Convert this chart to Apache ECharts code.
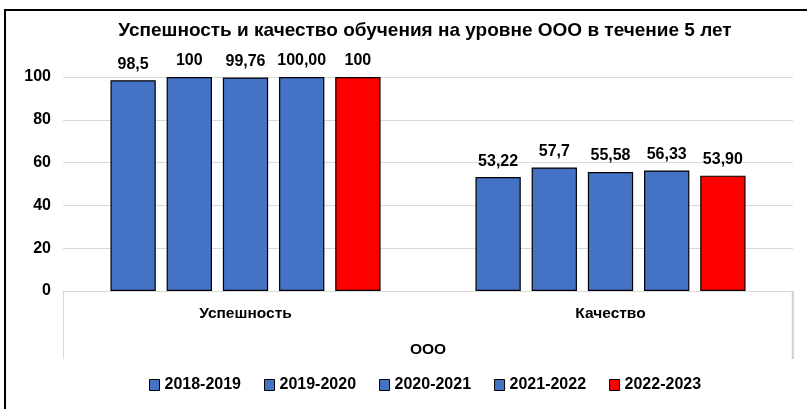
<!DOCTYPE html>
<html>
<head>
<meta charset="utf-8">
<script src="https://cdn.jsdelivr.net/npm/echarts@6/dist/echarts.min.js"></script>
<style>
  html, body { margin: 0; padding: 0; background: #fff; }
  #main { width: 807px; height: 409px; }
</style>
</head>
<body>
<div id="main"></div>
<script>
var categories = ['Успешность', 'Качество'];
var groupLabel = ['ООО'];
var years = ['2018-2019', '2019-2020', '2020-2021', '2021-2022', '2022-2023'];
var colors = ['#4472C4', '#4472C4', '#4472C4', '#4472C4', '#FF0000'];
var values = [
  [98.5, 53.22],
  [100, 57.7],
  [99.76, 55.58],
  [100, 56.33],
  [100, 53.9]
];
var labels = [
  ['98,5', '53,22'],
  ['100', '57,7'],
  ['99,76', '55,58'],
  ['100,00', '56,33'],
  ['100', '53,90']
];

var font = "'Liberation Sans', Arial, sans-serif";

var series = years.map(function (y, i) {
  return {
    name: y,
    type: 'bar',
    barGap: '24%',
    barCategoryGap: '26%',
    itemStyle: { color: colors[i], borderColor: '#000', borderWidth: 1.2 },
    label: {
      show: true,
      position: 'top',
      distance: 8,
      color: '#000',
      fontWeight: 'bold',
      fontSize: 16,
      fontFamily: font,
      formatter: function (p) { return labels[i][p.dataIndex]; }
    },
    data: values[i]
  };
});

var option = {
  animation: false,
  color: colors,
  title: {
    text: 'Успешность и качество обучения на уровне ООО в течение 5 лет',
    left: 420,
    textAlign: 'center',
    top: 16,
    textStyle: { fontSize: 19, fontWeight: 'bold', color: '#000', fontFamily: font }
  },
  legend: {
    bottom: 11,
    left: 144,
    icon: 'rect',
    itemWidth: 10,
    itemHeight: 11,
    itemGap: 23,
    textStyle: { fontSize: 16, fontWeight: 'bold', color: '#000', fontFamily: font },
    itemStyle: { borderColor: '#000', borderWidth: 1 },
    data: years
  },
  grid: { left: 63, right: 14, top: 77, bottom: 118 },
  xAxis: [
    {
      type: 'category',
      data: categories,
      axisLine: { lineStyle: { color: '#d9d9d9' } },
      axisTick: { show: false },
      axisLabel: { color: '#000', fontWeight: 'bold', fontSize: 15.5, fontFamily: font, margin: 15 }
    },
    {
      type: 'category',
      data: groupLabel,
      position: 'bottom',
      offset: 0,
      axisLine: { show: false },
      axisTick: { show: true, length: 68, lineStyle: { color: '#d9d9d9' } },
      axisLabel: { color: '#000', fontWeight: 'bold', fontSize: 15.5, fontFamily: font, margin: 51 }
    }
  ],
  yAxis: {
    type: 'value',
    min: 0,
    max: 100,
    interval: 20,
    axisLine: { show: false },
    axisTick: { show: false },
    axisLabel: { color: '#000', fontWeight: 'bold', fontSize: 16, fontFamily: font, margin: 12 },
    splitLine: { lineStyle: { color: '#d9d9d9' } }
  },
  graphic: [
    {
      type: 'rect',
      shape: { x: 5, y: 10, width: 820, height: 420 },
      style: { fill: 'none', stroke: '#000', lineWidth: 2 }
    },
    {
      type: 'line',
      shape: { x1: 792.5, y1: 291, x2: 792.5, y2: 359 },
      style: { stroke: '#d0d0d0', lineWidth: 1.5 }
    }
  ],
  series: series
};

var myChart = echarts.init(document.getElementById('main'));
myChart.setOption(option);
</script>
</body>
</html>
